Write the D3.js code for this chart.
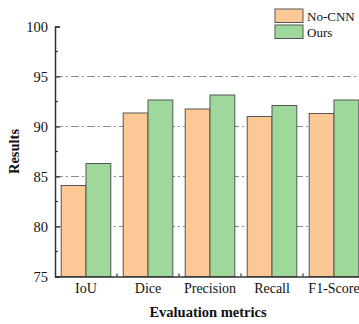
<!DOCTYPE html>
<html><head><meta charset="utf-8">
<script src="https://cdn.jsdelivr.net/npm/d3@7"></script>
<style>body{margin:0;background:#fff}svg{display:block}svg text{font-family:"Liberation Serif","Times New Roman",serif !important}</style>
</head><body><svg id="c" width="359" height="324"></svg>
<script>
const categories = ["IoU","Dice","Precision","Recall","F1-Score"];
const seriesNames = ["No-CNN","Ours"];
const noCnn = [84.1, 91.35, 91.75, 91.0, 91.3];
const ours = [86.3, 92.65, 93.15, 92.1, 92.65];
const yTicks = [75,80,85,90,95,100];
const gridTicks = [80,85,90,95];
const colors = ["#fcc896","#9fd89b"];

const svg = d3.select("#c");
const x0 = 55, x1 = 365, yTop = 26.5, yBot = 276.5;
const x = d3.scaleBand().domain(categories).range([x0,x1]).padding(0);
const xs = d3.scaleBand().domain(seriesNames).range([x.bandwidth()*0.1, x.bandwidth()*0.9]).padding(0);
const y = d3.scaleLinear().domain([75,100]).range([yBot,yTop]);
const data = categories.map((c,i)=>({c, v:[noCnn[i], ours[i]]}));

// grid
svg.append("g").selectAll("line").data(gridTicks).join("line")
  .attr("x1",x0).attr("x2",359).attr("y1",d=>y(d)).attr("y2",d=>y(d))
  .attr("stroke","#8a8a8a").attr("stroke-width",1.2).attr("stroke-dasharray","8,3,2,3");

// bars
const g = svg.append("g").selectAll("g").data(data).join("g")
  .attr("transform",d=>`translate(${x(d.c)},0)`);
g.selectAll("rect").data(d=>d.v.map((v,j)=>({v,s:seriesNames[j],j}))).join("rect")
  .attr("x",d=>xs(d.s)).attr("width",xs.bandwidth())
  .attr("y",d=>y(d.v)).attr("height",d=>y(75)-y(d.v))
  .attr("fill",d=>colors[d.j]).attr("stroke","#555").attr("stroke-width",1);

// y axis
const ya = svg.append("g").attr("transform",`translate(${x0},0)`)
  .call(d3.axisLeft(y).tickValues(yTicks).tickSize(-5).tickPadding(7));
ya.attr("font-family",null);
ya.select(".domain").attr("stroke","#333").attr("stroke-width",1.5);
ya.selectAll(".tick line").attr("stroke","#333").attr("stroke-width",1.2);
ya.selectAll("text").attr("font-size",14.5).attr("fill","#111");
svg.append("g").selectAll("line").data(d3.range(77.5,100,5)).join("line")
  .attr("x1",x0).attr("x2",x0+3).attr("y1",d=>y(d)).attr("y2",d=>y(d))
  .attr("stroke","#333").attr("stroke-width",1.2);

// x axis
const xa = svg.append("g").attr("transform",`translate(0,${yBot})`)
  .call(d3.axisBottom(x).tickSize(0).tickPadding(7));
xa.attr("font-family",null);
xa.select(".domain").attr("stroke","#333").attr("stroke-width",1.5);
xa.selectAll("text").attr("font-size",14).attr("fill","#111");
svg.append("g").selectAll("line").data(categories.slice(1)).join("line")
  .attr("x1",d=>x(d)).attr("x2",d=>x(d)).attr("y1",yBot).attr("y2",yBot-3)
  .attr("stroke","#333").attr("stroke-width",1.2);

// titles
svg.append("text").attr("x",208).attr("y",317).attr("text-anchor","middle")
  .attr("font-weight","bold").attr("font-size",14.5).attr("fill","#111").text("Evaluation metrics");
svg.append("text").attr("transform",`translate(19,${(yTop+yBot)/2}) rotate(-90)`)
  .attr("text-anchor","middle").attr("font-weight","bold").attr("font-size",14.5).attr("fill","#111").text("Results");

// legend
const lg = svg.append("g").selectAll("g").data(seriesNames).join("g")
  .attr("transform",(d,i)=>`translate(275,${9+i*16})`);
lg.append("rect").attr("width",28).attr("height",13.5)
  .attr("fill",(d,i)=>colors[i]).attr("stroke","#555").attr("stroke-width",1);
lg.append("text").attr("x",32).attr("y",11.5).attr("font-size",13).attr("fill","#111").text(d=>d);
</script></body></html>
